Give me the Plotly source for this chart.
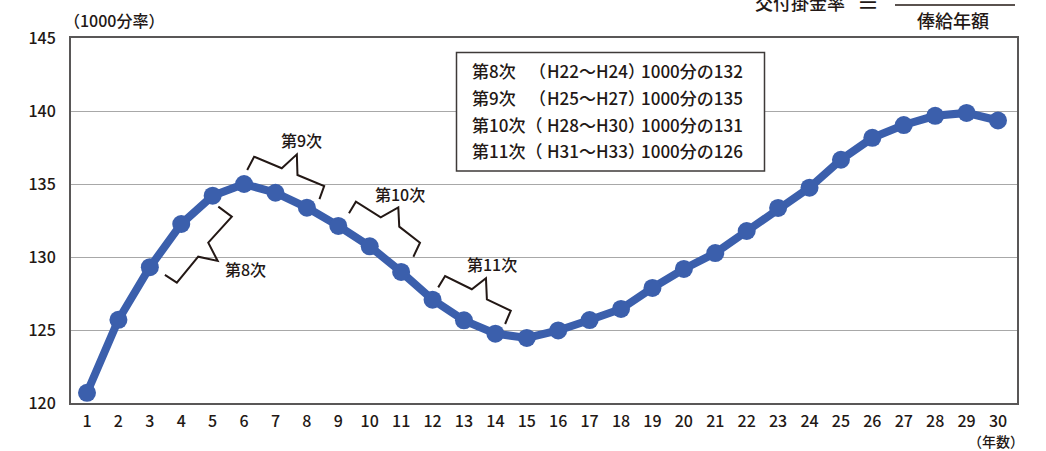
import plotly.graph_objects as go

# ---- data ----
years = list(range(1, 31))
rates = [120.7, 125.7, 129.3, 132.26, 134.2, 135.0, 134.4, 133.38, 132.13, 130.73,
         128.98, 127.08, 125.66, 124.75, 124.46, 124.97, 125.68, 126.44, 127.88, 129.18,
         130.27, 131.78, 133.36, 134.75, 136.66, 138.16, 139.04, 139.67, 139.87, 139.35]

x_tick_vals = years
y_tick_vals = [120, 125, 130, 135, 140, 145]

legend_labels = ["第8次", "第9次", "第10次（", "第11次（"]
legend_open_paren = ["（", "（", "", ""]
legend_periods = ["H22～H24）", "H25～H27）", "H28～H30）", "H31～H33）"]
legend_rates = ["1000分の132", "1000分の135", "1000分の131", "1000分の126"]

# brace outlines (in data coords: year index, rate)
braces = {
    "第8次": ([5.18, 5.61, 4.86, 5.16, 4.54, 3.86, 3.48],
             [133.45, 132.76, 130.98, 129.73, 130.02, 128.24, 128.77], (6.03, 129.2)),
    "第9次": ([6.10, 6.32, 7.20, 7.68, 7.70, 8.55, 8.40],
             [135.96, 136.87, 136.08, 137.03, 135.62, 134.86, 133.97], (7.84, 138.0)),
    "第10次": ([9.34, 9.56, 10.35, 10.91, 10.94, 11.60, 11.39],
              [132.99, 133.79, 132.72, 133.40, 132.08, 130.98, 130.02], (10.97, 134.3)),
    "第11次": ([12.18, 12.40, 13.25, 13.70, 13.73, 14.49, 14.31],
              [127.92, 128.70, 127.79, 128.54, 127.10, 126.32, 125.41], (13.88, 129.5)),
}

W, H = 1046, 451
L, R, T, B = 71, 29, 38, 48
PW, PH = W - L - R, H - T - B

def pxx(x):
    return (x - L) / PW

def pxy(y):
    return (H - B - y) / PH

TXT = "#231815"
FONT = "Noto Sans CJK JP"
WT = 500
LINE_BLUE = "#3b5fac"

def f(size):
    return dict(size=size, color=TXT, family=FONT, weight=WT)

fig = go.Figure()
fig.add_trace(go.Scatter(
    x=years, y=rates, mode="lines+markers",
    line=dict(color=LINE_BLUE, width=8),
    marker=dict(color=LINE_BLUE, size=18),
    showlegend=False, hoverinfo="x+y"))

shapes = []
annotations = []
for name, (bx, by, (lx, ly)) in braces.items():
    path = "M " + " L ".join(f"{a},{b}" for a, b in zip(bx, by))
    shapes.append(dict(type="path", xref="x", yref="y", path=path,
                       line=dict(color=TXT, width=2)))
    annotations.append(dict(x=lx, y=ly, xref="x", yref="y", text=name, showarrow=False,
                            font=f(16)))

# legend box
shapes.append(dict(type="rect", xref="paper", yref="paper",
                   x0=pxx(456.5), x1=pxx(764.5), y0=pxy(171), y1=pxy(52.5),
                   line=dict(color="#3e3a39", width=1.5), fillcolor="white", layer="above"))
row_y = [71, 97.5, 124, 150]

def note(x, y, text, anchor, size=17):
    annotations.append(dict(x=pxx(x), y=pxy(y), xref="paper", yref="paper", xanchor=anchor,
                            yanchor="middle", text=text, showarrow=False, borderpad=0,
                            font=f(size)))

for i in range(4):
    note(471, row_y[i], legend_labels[i], "left")
    if legend_open_paren[i]:
        note(547, row_y[i], legend_open_paren[i], "right")
    note(546, row_y[i], legend_periods[i], "left")
    note(640, row_y[i], legend_rates[i], "left")

# axis titles
note(63, 20, "（1000分率）", "left", 16)
note(1025, 440.5, "（年数）", "right", 14)

# formula fragment at top right
note(754, 2, "交付掛金率", "left", 18)
note(868, 3, "＝", "center", 22)
note(953, 20, "俸給年額", "center", 18)
shapes.append(dict(type="line", xref="paper", yref="paper",
                   x0=pxx(895), x1=pxx(1015), y0=pxy(5), y1=pxy(5),
                   line=dict(color=TXT, width=1.5)))

fig.update_layout(
    width=W, height=H,
    margin=dict(l=L, r=R, t=T, b=B),
    paper_bgcolor="white", plot_bgcolor="white",
    shapes=shapes, annotations=annotations,
    font=dict(family=FONT, color=TXT),
    xaxis=dict(range=[1 - 16 / 31.41, 30 + 19 / 31.41], tickvals=x_tick_vals,
               showgrid=False, zeroline=False, showline=True, mirror=True,
               linecolor="#595757", linewidth=2, ticks="", ticklabelstandoff=3,
               tickfont=f(16)),
    yaxis=dict(range=[120, 145], tickvals=y_tick_vals,
               showgrid=True, gridcolor="#a8a8a8", gridwidth=1, zeroline=False,
               showline=True, mirror=True, linecolor="#595757", linewidth=2,
               ticks="", ticklabelstandoff=10,
               tickfont=f(16)),
)

fig.write_html("out.html")
